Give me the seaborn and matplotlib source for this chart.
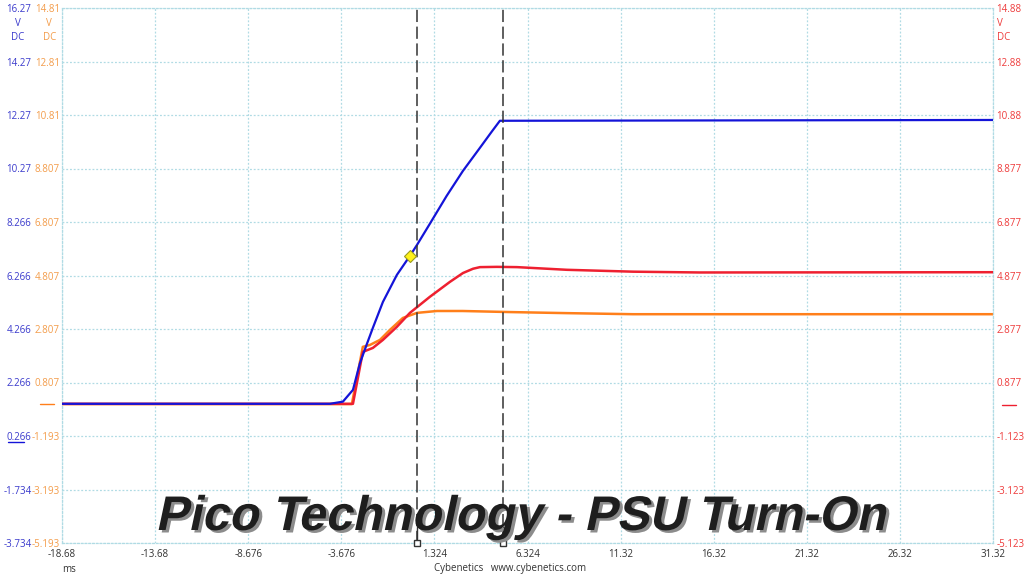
import matplotlib
matplotlib.use("Agg")
import matplotlib.pyplot as plt
import matplotlib.patheffects as pe
from matplotlib.colors import to_rgba
from matplotlib.transforms import Affine2D, blended_transform_factory
import seaborn as sns

# tick labels (as shown by the scope software)
x_labels = ["-18.68", "-13.68", "-8.676", "-3.676", "1.324", "6.324",
            "11.32", "16.32", "21.32", "26.32", "31.32"]
blue_labels = ["16.27", "14.27", "12.27", "10.27", "8.266", "6.266",
               "4.266", "2.266", "0.266", "-1.734", "-3.734"]
orange_labels = ["14.81", "12.81", "10.81", "8.807", "6.807", "4.807",
                 "2.807", "0.807", "-1.193", "-3.193", "-5.193"]
red_labels = ["14.88", "12.88", "10.88", "8.877", "6.877", "4.877",
              "2.877", "0.877", "-1.123", "-3.123", "-5.123"]

x_ticks = [-18.676 + 5 * i for i in range(11)]
blue_ticks = [16.266 - 2 * i for i in range(11)]
orange_ticks = [14.807 - 2 * i for i in range(11)]
red_ticks = [14.877 - 2 * i for i in range(11)]

# traces (time in ms, volts in each channel's own scale)
blue_t = [-18.68, -4.29, -3.59, -3.05, -2.68, -2.30, -1.98, -1.44, -0.69,
          0.01, 0.39, 1.08, 1.98, 2.86, 3.77, 4.41, 4.84, 31.32]
blue_v = [1.47, 1.47, 1.55, 1.99, 2.98, 3.71, 4.31, 5.28, 6.29,
          7.00, 7.41, 8.20, 9.24, 10.18, 11.04, 11.65, 12.05, 12.08]

orange_t = [-18.68, -3.11, -2.52, -2.14, -1.60, -1.07, -0.37, 0.39, 1.46,
            2.84, 5.38, 8.44, 11.99, 31.32]
orange_v = [0.0, 0.0, 2.14, 2.21, 2.40, 2.77, 3.22, 3.41, 3.48,
            3.48, 3.44, 3.40, 3.36, 3.36]

red_t = [-18.68, -3.05, -2.52, -1.98, -1.44, -0.69, 0.01, 1.08, 2.16,
         2.86, 3.40, 3.77, 4.68, 5.76, 8.44, 11.99, 15.58, 31.32]
red_v = [0.08, 0.08, 2.02, 2.17, 2.47, 2.96, 3.48, 4.08, 4.64,
         4.97, 5.13, 5.19, 5.20, 5.19, 5.09, 5.02, 4.99, 5.00]

cursor_t = [0.40, 5.00]
marker_t = 0.01
marker_v = 7.00

blue_ground = 0.05
orange_ground = 0.0
red_ground = 0.04

# colours
c_blue = "#1414d8"
c_orange = "#ff7f1a"
c_red = "#ee2030"
c_blue_txt = "#3a3acc"
c_orange_txt = "#f39c4a"
c_red_txt = "#ee3b3b"
c_grid = "#b0dbe4"


class Slanted(pe.AbstractPathEffect):
    # draws the glyph outlines sheared, so upright fonts come out italic
    def __init__(self, deg=12, offset=(0, 0), face=None):
        super().__init__(offset)
        self.deg = deg
        self.face = to_rgba(face) if face else None

    def draw_path(self, renderer, gc, tpath, affine, rgbFace=None):
        aff = Affine2D().skew_deg(self.deg, 0) + affine + self._offset_transform(renderer)
        renderer.draw_path(gc, tpath, aff, self.face if self.face else rgbFace)


sns.set_style("white")
plt.rcParams["font.family"] = ["Open Sans", "DejaVu Sans"]

fig = plt.figure(figsize=(10.24, 5.76), dpi=100)
ax_o = fig.add_axes([62 / 1024, 33 / 576, 931 / 1024, 535 / 576])
ax_r = ax_o.twinx()
ax_b = ax_o.twinx()

ax_o.set_xlim(x_ticks[0], x_ticks[-1])
ax_o.set_ylim(orange_ticks[-1], orange_ticks[0])
ax_r.set_ylim(red_ticks[-1], red_ticks[0])
ax_b.set_ylim(blue_ticks[-1], blue_ticks[0])

# grid on the base axes
ax_o.set_xticks(x_ticks)
ax_o.set_xticklabels(x_labels)
ax_o.set_yticks(orange_ticks)
ax_o.set_yticklabels(orange_labels)
ax_o.grid(True, color=c_grid, linestyle=(0, (1.5, 1.5)), linewidth=0.9)
for s in ax_o.spines.values():
    s.set_color(c_grid)
    s.set_linestyle((0, (1.5, 1.5)))
    s.set_linewidth(0.9)
for a in (ax_r, ax_b):
    for s in a.spines.values():
        s.set_visible(False)
    a.grid(False)

ax_o.tick_params(axis="x", length=0, pad=4, labelsize=7, labelcolor="#333333")
ax_o.tick_params(axis="y", length=0, pad=1.5, labelsize=7, labelcolor=c_orange_txt)

ax_r.set_yticks(red_ticks)
ax_r.set_yticklabels(red_labels)
ax_r.tick_params(axis="y", length=0, pad=2.5, labelsize=7, labelcolor=c_red_txt)

ax_b.yaxis.tick_left()
ax_b.set_yticks(blue_ticks)
ax_b.set_yticklabels(blue_labels)
ax_b.tick_params(axis="y", length=0, pad=22, labelsize=7, labelcolor=c_blue_txt)

# traces
sns.lineplot(x=orange_t, y=orange_v, ax=ax_o, color=c_orange, linewidth=1.8)
sns.lineplot(x=red_t, y=red_v, ax=ax_r, color=c_red, linewidth=1.8)
sns.lineplot(x=blue_t, y=blue_v, ax=ax_b, color=c_blue, linewidth=1.6)
for a in (ax_o, ax_r, ax_b):
    a.set_xlabel("")
    a.set_ylabel("")

# cursors
tr = blended_transform_factory(ax_b.transData, ax_b.transAxes)
for t in cursor_t:
    ax_b.axvline(t, color="#333333", linewidth=1.1, linestyle=(0, (8, 3)), zorder=5)
    ax_b.plot([t, t], [0.008, 0.03], color="#333333", linewidth=1.0,
              transform=tr, clip_on=False, zorder=6)
    ax_b.plot([t], [0.0], marker="s", ms=5, mfc="white", mec="#333333",
              mew=1.0, transform=tr, clip_on=False, zorder=6)

ax_b.plot([marker_t], [marker_v], marker="D", ms=6, mfc="#fff21a",
          mec="#9a9a20", mew=0.8, zorder=7)

# ground reference dashes beside the axes
tr_o = blended_transform_factory(ax_o.transAxes, ax_o.transData)
ax_o.plot([-0.0236, -0.0086], [orange_ground, orange_ground], color=c_orange,
          linewidth=1.0, transform=tr_o, clip_on=False)
tr_b = blended_transform_factory(ax_b.transAxes, ax_b.transData)
ax_b.plot([-0.058, -0.041], [blue_ground, blue_ground], color=c_blue,
          linewidth=1.0, transform=tr_b, clip_on=False)
tr_r = blended_transform_factory(ax_r.transAxes, ax_r.transData)
ax_r.plot([1.0097, 1.0247], [red_ground, red_ground], color=c_red,
          linewidth=1.0, transform=tr_r, clip_on=False)

# unit labels
fs = 7
fig.text(18 / 1024, 1 - 23 / 576, "V", color=c_blue_txt, fontsize=fs, ha="center", va="center")
fig.text(18 / 1024, 1 - 38 / 576, "DC", color=c_blue_txt, fontsize=fs, ha="center", va="center")
fig.text(49 / 1024, 1 - 23 / 576, "V", color=c_orange_txt, fontsize=fs, ha="center", va="center")
fig.text(50 / 1024, 1 - 38 / 576, "DC", color=c_orange_txt, fontsize=fs, ha="center", va="center")
fig.text(997 / 1024, 1 - 23 / 576, "V", color=c_red_txt, fontsize=fs, ha="left", va="center")
fig.text(997 / 1024, 1 - 38 / 576, "DC", color=c_red_txt, fontsize=fs, ha="left", va="center")

fig.text(69 / 1024, 1 - 569 / 576, "ms", color="#333333", fontsize=fs, ha="center", va="center")
fig.text(510 / 1024, 1 - 568 / 576, "Cybenetics   www.cybenetics.com", color="#333333",
         fontsize=fs, ha="center", va="center")

# big title
title = fig.text(520 / 1024, 1 - 530 / 576, "Pico Technology - PSU Turn-On",
                 family=["Liberation Sans", "DejaVu Sans"], fontsize=35,
                 fontweight="bold", color="#1e1e1e",
                 ha="center", va="baseline", zorder=10)
title.set_path_effects([
    Slanted(12, offset=(2.2, -1.8), face="#8c8c8c"),
    Slanted(12),
])

fig.savefig("out.png", dpi=100)
